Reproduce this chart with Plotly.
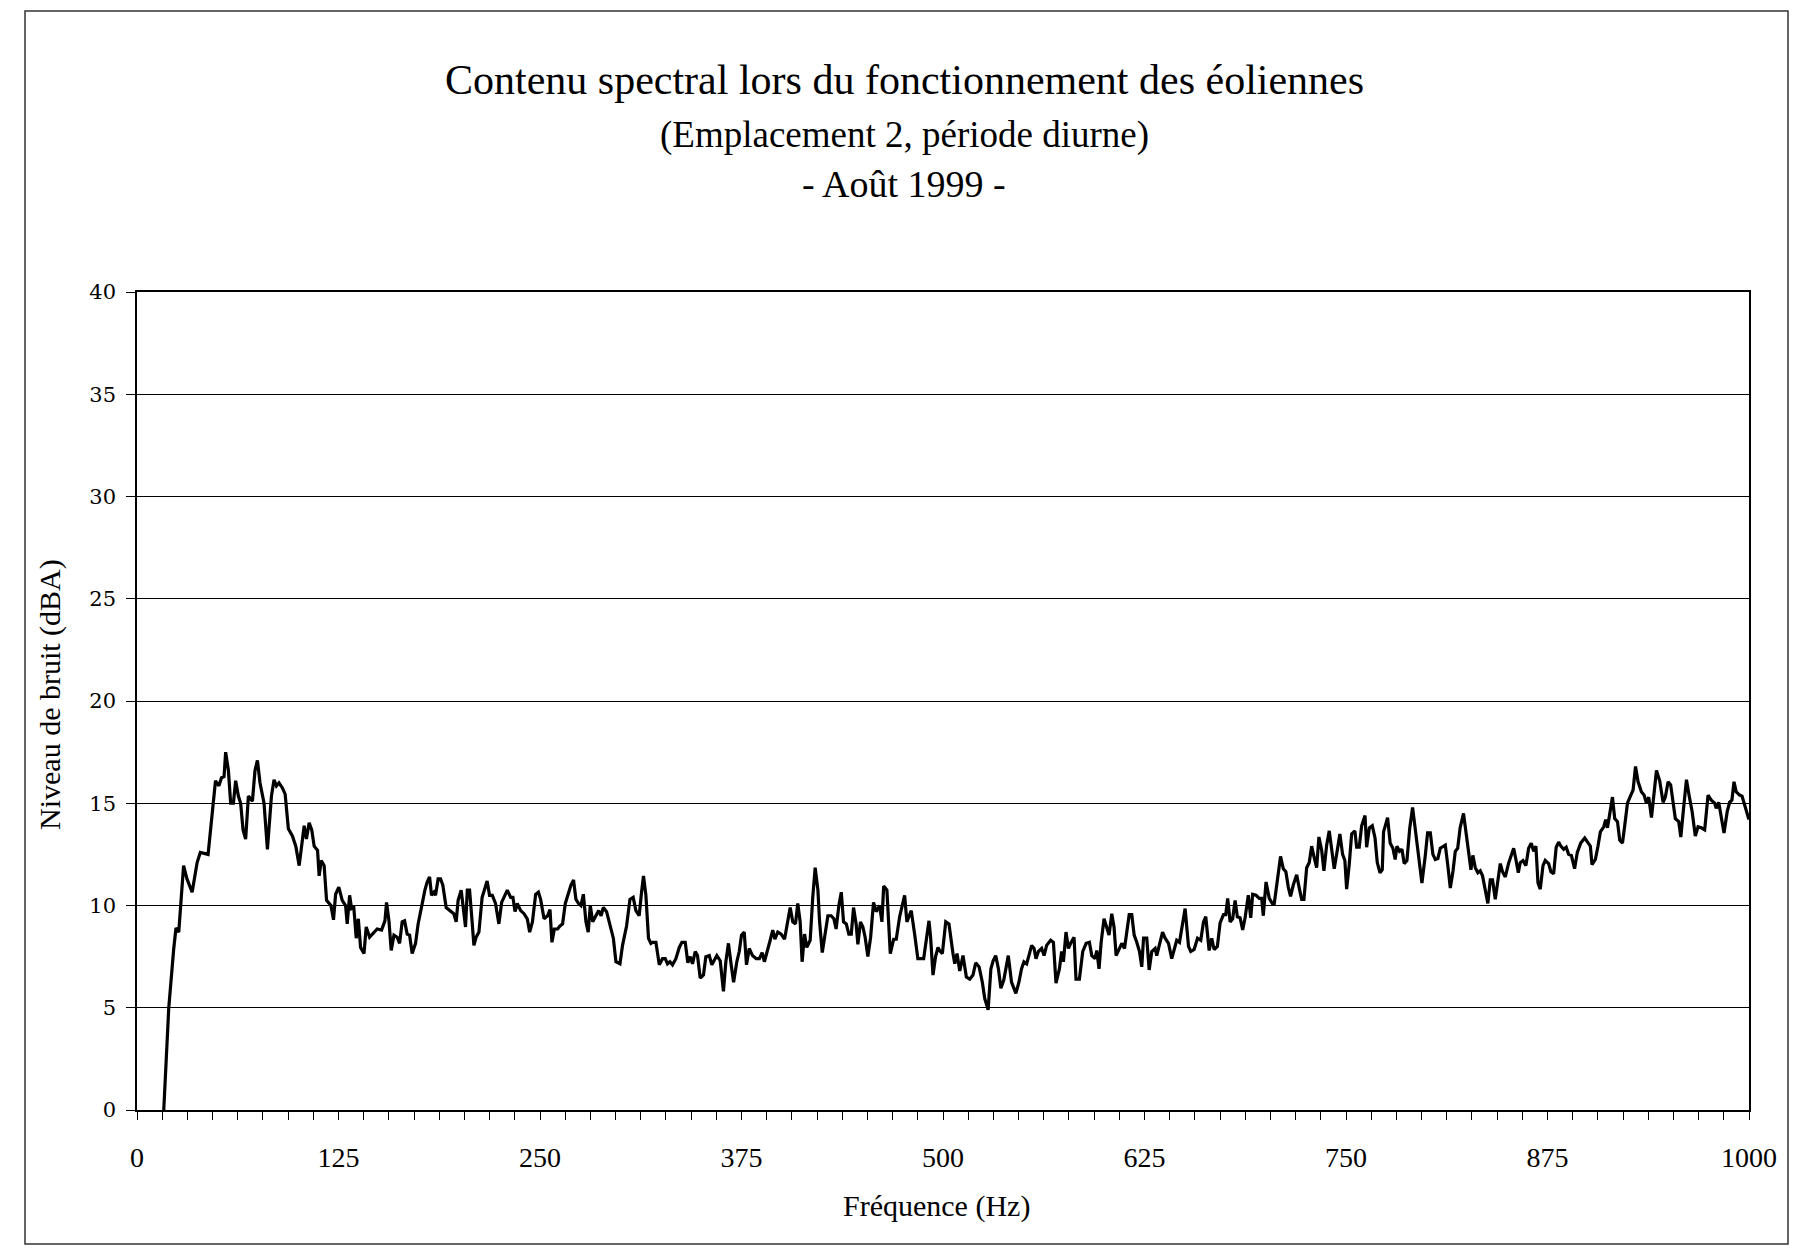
import plotly.graph_objects as go

# ---- data (frequency in Hz, level in dBA) ----
freq_a = [16.6, 19.7, 22.8, 24.2, 25.9, 28.9, 31.0, 34.2, 37.3, 39.3, 44.1, 45.6, 47.7, 48.7, 50.8,
          52.4, 54.0, 55.0, 56.7, 58.1, 59.8, 61.2, 62.9, 64.3, 65.8, 67.4, 69.1, 71.6, 73.2, 74.7,
          76.3, 78.8, 80.9, 83.4, 85.0, 86.5, 88.1, 90.2, 91.9, 93.9, 96.4, 98.5, 100.6, 103.7, 105.1,
          106.8, 108.4, 109.9, 112.0, 113.0, 114.3, 116.1, 117.6, 120.3]
level_a = [0, 5.0, 7.9, 8.9, 8.7, 11.95, 11.3, 10.65, 12.1, 12.6, 12.5, 13.6, 15.2, 16.1, 15.85,
           16.25, 16.3, 17.5, 16.6, 15.0, 15.0, 16.1, 15.35, 15.0, 13.7, 13.25, 15.35, 15.1, 16.6, 17.1,
           16.0, 15.0, 12.75, 15.35, 16.15, 15.85, 16.0, 15.75, 15.45, 13.75, 13.4, 12.9, 11.95, 13.9, 13.25,
           14.05, 13.7, 12.9, 12.7, 11.45, 12.2, 11.95, 10.25, 10.0]

freq_b = [121.9, 123.2, 125.2, 127.3, 129.4, 130.4, 131.9, 133.1, 134.5, 136.0, 137.3, 138.7, 140.8, 142.2,
          144.3, 145.9, 149.0, 151.7, 153.8, 154.8, 156.3, 157.7, 159.4, 161.4, 162.9, 164.5, 166.0, 167.6,
          169.1, 170.7, 172.8, 174.4, 176.5, 178.6, 180.0, 181.5, 182.7, 184.2, 185.2, 186.8, 188.3, 189.7,
          191.8, 194.5, 196.5, 198.0, 199.2, 201.1, 202.2, 203.8, 204.9, 206.3, 207.5, 209.0, 210.4, 212.1,
          214.1, 215.8, 217.2, 218.7, 220.4, 222.4, 224.5, 226.2, 228.2, 229.7, 231.8, 233.2, 234.5, 235.9,
          238.0, 240.1, 242.1, 243.6, 245.3, 247.3, 249.0, 250.4, 252.5]
level_b = [9.3, 10.55, 10.9, 10.25, 10.0, 9.1, 10.5, 9.85, 9.9, 8.4, 9.35, 7.95, 7.65, 8.95,
           8.45, 8.6, 8.85, 8.8, 9.25, 10.15, 9.25, 7.8, 8.55, 8.45, 8.15, 9.2, 9.25, 8.6,
           8.55, 7.65, 8.15, 9.1, 10.0, 10.75, 11.15, 11.4, 10.5, 10.65, 10.5, 11.3, 11.3, 11.0,
           9.9, 9.7, 9.6, 9.2, 10.25, 10.75, 9.85, 8.95, 10.75, 10.75, 9.6, 8.05, 8.45, 8.7,
           10.4, 10.9, 11.2, 10.5, 10.5, 10.1, 9.1, 10.15, 10.55, 10.75, 10.4, 10.4, 9.7, 10.1,
           9.75, 9.6, 9.35, 8.7, 9.2, 10.55, 10.65, 10.3, 9.35]

freq_c = [254.7, 256.2, 257.4, 258.9, 260.9, 262.4, 264.0, 265.7, 267.7, 269.2, 270.8, 272.3, 273.9, 275.4,
          276.9, 278.5, 279.9, 281.2, 282.7, 284.8, 286.4, 287.9, 289.3, 291.3, 293.0, 295.5, 297.1, 299.6,
          301.2, 303.7, 305.8, 307.8, 309.5, 311.5, 313.0, 314.2, 315.7, 317.3, 318.8, 319.8, 321.9, 324.0,
          326.0, 327.7, 329.1, 330.6, 332.2, 334.3, 336.4, 338.0, 340.1, 341.7, 343.2, 344.6, 346.3, 347.7,
          349.4, 351.4, 352.9, 355.0, 356.6, 358.5, 359.7, 361.8, 363.8, 365.3, 366.9, 368.6, 370.1, 372.1,
          373.6, 375.0, 376.7, 378.1, 379.8, 381.8]
level_c = [9.5, 9.8, 8.2, 8.85, 8.85, 9.0, 9.1, 10.1, 10.65, 11.0, 11.25, 10.3, 10.1, 10.0,
           10.55, 9.2, 8.7, 10.0, 9.2, 9.5, 9.75, 9.5, 9.9, 9.7, 9.2, 8.4, 7.25, 7.15,
           8.05, 9.0, 10.3, 10.4, 9.75, 9.5, 10.65, 11.45, 10.5, 8.4, 8.15, 8.2, 8.2, 7.1,
           7.4, 7.4, 7.15, 7.25, 7.1, 7.4, 7.95, 8.2, 8.2, 7.2, 7.5, 7.15, 7.75, 7.55,
           6.45, 6.6, 7.5, 7.55, 7.1, 7.4, 7.55, 7.3, 5.8, 7.25, 8.15, 7.1, 6.25, 7.25,
           7.75, 8.55, 8.7, 7.1, 7.9, 7.55]

freq_d = [384.1, 386.1, 387.8, 389.2, 391.3, 392.8, 394.4, 395.7, 397.5, 399.6, 401.7, 403.7, 405.2, 406.8,
          408.5, 409.9, 411.4, 412.6, 414.1, 415.5, 417.6, 419.2, 420.7, 422.4, 423.4, 425.1, 426.5, 428.6,
          430.6, 432.3, 433.7, 435.4, 436.9, 438.3, 440.0, 441.6, 443.1, 444.5, 446.1, 447.2, 448.8, 450.3,
          451.7, 453.4, 455.1, 456.9, 458.6, 460.7, 462.1, 463.2, 465.2, 467.3, 469.4, 471.0, 473.1, 474.7,
          476.2, 477.6, 480.3, 482.4, 484.4, 488.0, 489.6, 491.3, 492.3, 493.8, 495.4, 496.9, 497.9, 499.6,
          501.7, 503.7, 506.2, 507.3, 508.7, 510.4]
level_d = [7.4, 7.4, 7.7, 7.25, 7.95, 8.3, 8.8, 8.35, 8.7, 8.6, 8.35, 9.25, 9.9, 9.2,
           9.1, 10.1, 9.2, 7.25, 8.6, 7.95, 8.3, 10.4, 11.85, 10.75, 9.25, 7.7, 8.45, 9.5,
           9.5, 9.35, 8.85, 10.0, 10.65, 9.2, 9.1, 8.6, 8.6, 9.9, 9.1, 8.1, 9.2, 8.95,
           8.45, 7.5, 8.45, 10.15, 9.7, 10.0, 9.2, 10.95, 10.75, 7.65, 8.35, 8.35, 9.45, 10.0,
           10.5, 9.2, 9.75, 8.6, 7.4, 7.4, 8.45, 9.25, 8.45, 6.6, 7.5, 7.95, 7.8, 7.65,
           9.2, 9.1, 7.65, 7.15, 7.65, 6.8]

freq_e = [512.4, 514.5, 516.6, 518.6, 520.3, 522.4, 524.4, 525.9, 528.0, 529.7, 531.1, 532.7, 534.4, 535.9,
          537.7, 540.5, 542.5, 545.2, 547.1, 548.7, 550.2, 551.9, 553.3, 555.0, 556.5, 557.7, 559.2, 561.2,
          562.7, 564.3, 566.8, 568.5, 570.1, 572.2, 573.6, 574.7, 576.3, 577.8, 579.2, 581.3, 582.5, 584.6,
          586.7, 588.8, 590.8, 592.3, 594.3, 595.4, 596.8, 598.1, 599.9, 601.6, 603.0, 604.7, 606.1, 607.4,
          609.4, 610.9, 612.6, 614.0, 615.5, 617.1, 618.6, 620.2, 621.9, 623.3, 624.4, 626.4, 627.9, 629.5,
          631.6, 632.6, 634.7, 636.2, 637.8, 639.9, 641.9]
level_e = [7.55, 6.5, 6.4, 6.6, 7.2, 7.0, 6.25, 5.45, 4.9, 6.9, 7.3, 7.55, 6.9, 5.95,
           6.35, 7.55, 6.25, 5.7, 6.25, 6.9, 7.25, 7.15, 7.55, 8.05, 7.9, 7.4, 7.75, 7.9,
           7.55, 8.05, 8.3, 8.2, 6.2, 6.9, 7.75, 7.25, 8.7, 7.9, 8.15, 8.45, 6.4, 6.4,
           7.75, 8.15, 8.2, 7.55, 7.4, 7.8, 6.9, 8.2, 9.35, 8.85, 8.55, 9.6, 8.95, 7.55,
           7.9, 8.15, 7.9, 8.85, 9.55, 9.55, 8.55, 8.2, 7.75, 7.0, 8.4, 8.4, 6.85, 7.75,
           7.9, 7.55, 8.2, 8.7, 8.4, 8.15, 7.4]

freq_f = [645.0, 646.7, 648.1, 650.2, 652.3, 653.7, 655.8, 657.9, 659.9, 661.6, 663.0, 665.1, 666.7, 668.2,
          670.2, 671.9, 674.0, 675.4, 676.6, 678.1, 679.7, 681.2, 682.6, 684.3, 685.9, 687.4, 689.4, 690.9,
          692.1, 694.2, 696.2, 697.7, 698.7, 700.4, 702.4, 704.3, 705.5, 707.4, 709.4, 711.1, 712.7, 714.2,
          715.6, 717.3, 719.4, 721.0, 722.5, 723.9, 725.6, 727.2, 728.7, 730.1, 731.8, 733.2, 734.9, 736.3,
          738.0, 739.6, 741.1, 742.7, 744.6, 746.2, 747.9, 749.3, 750.4, 752.0, 753.5, 755.5, 756.6, 758.2,
          759.7, 761.8, 762.8, 764.5, 766.3, 768.0, 769.4, 771.1, 772.5]
level_f = [8.3, 8.2, 8.95, 9.85, 8.0, 7.75, 7.85, 8.4, 8.3, 9.2, 9.45, 7.8, 8.4, 7.85,
           8.0, 9.15, 9.55, 9.55, 10.35, 9.2, 9.35, 10.25, 9.45, 9.4, 8.8, 9.4, 10.5, 9.4,
           10.55, 10.5, 10.35, 10.35, 9.5, 11.15, 10.35, 10.1, 10.1, 11.15, 12.4, 11.8, 11.65, 10.9,
           10.45, 11.0, 11.5, 10.85, 10.3, 10.3, 11.85, 12.1, 12.9, 12.4, 11.85, 13.35, 12.7, 11.7,
           12.95, 13.65, 12.7, 11.8, 12.7, 13.5, 12.5, 12.2, 10.8, 12.0, 13.5, 13.65, 12.85, 12.85,
           13.9, 14.4, 12.85, 13.8, 13.9, 13.3, 12.1, 11.6, 11.75]

freq_g = [773.3, 775.8, 777.4, 779.1, 780.5, 781.6, 783.2, 784.7, 786.1, 787.8, 789.5, 791.3, 793.0, 795.0,
          797.1, 799.2, 800.6, 802.3, 803.9, 805.4, 807.0, 808.5, 810.2, 811.6, 813.1, 814.7, 816.4, 817.8,
          819.3, 820.8, 822.9, 824.4, 826.0, 827.5, 828.7, 830.2, 831.8, 833.3, 834.7, 836.4, 838.0, 839.5,
          840.9, 842.6, 844.0, 845.7, 847.1, 848.8, 850.8, 852.3, 854.0, 855.4, 856.9, 858.1, 859.8, 861.6,
          863.3, 864.9, 866.4, 867.8, 869.1, 870.5, 872.2, 873.6, 875.7, 877.1, 878.8, 880.4, 881.9, 883.3,
          885.0, 886.6, 888.1]
level_g = [13.6, 14.3, 13.05, 12.8, 12.25, 12.9, 12.65, 12.75, 12.05, 12.2, 13.75, 14.8, 13.75, 12.45,
           11.1, 12.45, 13.55, 13.55, 12.5, 12.25, 12.3, 12.8, 12.9, 12.95, 12.0, 10.85, 11.7, 12.65,
           12.8, 13.8, 14.5, 13.55, 12.65, 11.75, 12.45, 11.85, 11.6, 11.7, 11.45, 10.65, 10.1, 11.25,
           11.25, 10.3, 11.0, 12.05, 11.65, 11.4, 12.05, 12.4, 12.8, 12.25, 11.6, 12.1, 12.2, 11.95,
           12.8, 13.05, 12.65, 12.9, 11.1, 10.8, 11.95, 12.2, 12.05, 11.65, 11.55, 12.85, 13.1, 12.9,
           12.75, 12.85, 12.5]

freq_h = [889.8, 891.8, 893.5, 895.6, 898.1, 900.1, 901.6, 902.6, 904.7, 906.3, 907.8, 909.9, 911.1, 912.2,
          913.6, 915.3, 916.7, 918.4, 919.8, 921.5, 922.9, 924.6, 926.7, 928.1, 929.6, 931.2, 933.3, 934.9,
          936.4, 937.8, 939.5, 940.9, 942.6, 944.6, 946.7, 948.1, 949.8, 951.4, 952.9, 954.3, 956.4, 957.7,
          959.1, 961.2, 962.8, 964.7, 966.7, 968.4, 970.4, 972.5, 974.6, 976.6, 978.7, 979.7, 981.2, 982.8,
          984.5, 986.5, 988.0, 989.4, 990.7, 992.1, 994.2, 995.7, 997.3, 999.4, 1000.0]
level_h = [12.45, 11.8, 12.6, 13.05, 13.3, 13.05, 12.9, 12.0, 12.25, 12.9, 13.6, 13.85, 14.2, 13.8,
           14.55, 15.3, 14.25, 14.1, 13.2, 13.05, 13.9, 15.0, 15.4, 15.65, 16.8, 16.05, 15.55, 15.4,
           15.0, 15.3, 14.3, 15.3, 16.6, 16.1, 15.05, 15.3, 16.05, 15.9, 15.0, 14.25, 14.1, 13.35,
           14.5, 16.15, 15.4, 14.6, 13.4, 13.85, 13.8, 13.7, 15.4, 15.15, 15.0, 14.75, 15.05, 14.2,
           13.55, 14.6, 15.05, 15.15, 16.05, 15.55, 15.4, 15.35, 14.85, 14.35, 14.2]

x_ticks = [0, 125, 250, 375, 500, 625, 750, 875, 1000]
y_ticks = [0, 5, 10, 15, 20, 25, 30, 35, 40]

title_lines = ["Contenu spectral lors du fonctionnement des éoliennes",
               "(Emplacement 2, période diurne)",
               "- Août 1999 -"]
x_title = "Fréquence (Hz)"
y_title = "Niveau de bruit (dBA)"

freq = freq_a + freq_b + freq_c + freq_d + freq_e + freq_f + freq_g + freq_h
level = level_a + level_b + level_c + level_d + level_e + level_f + level_g + level_h

# ---- figure ----
W, H = 1801, 1255
L, R, T, B = 137, 52, 292, 145
pw, ph = W - L - R, H - T - B


def px(xp):
    return (xp - L) / pw


def py(yp):
    return (H - B - yp) / ph


SERIF = "Liberation Serif, Times New Roman, serif"

fig = go.Figure()
fig.add_trace(go.Scatter(x=freq, y=level, mode="lines",
                         line=dict(color="black", width=3.2), showlegend=False,
                         hoverinfo="x+y"))

fig.update_layout(
    width=W, height=H,
    margin=dict(l=L, r=R, t=T, b=B, autoexpand=False),
    paper_bgcolor="white", plot_bgcolor="white",
    xaxis=dict(range=[0, 1000], tickvals=x_ticks, ticktext=[str(v) for v in x_ticks],
               ticks="outside", ticklen=8, tickwidth=1, tickcolor="black",
               showline=True, linecolor="black", linewidth=1.5, mirror=True,
               showgrid=False, zeroline=False, automargin=False,
               minor=dict(dtick=15.625, tick0=0, ticks="outside", ticklen=8,
                          tickwidth=1, tickcolor="black", showgrid=False),
               tickfont=dict(family=SERIF, size=28, color="black"),
               ticklabelstandoff=14),
    yaxis=dict(range=[0, 40], tickvals=y_ticks,
               ticks="outside", ticklen=9, tickwidth=1, tickcolor="black",
               showline=True, linecolor="black", linewidth=1.5, mirror=True,
               showgrid=True, gridcolor="black", gridwidth=1.2, zeroline=False,
               automargin=False,
               tickfont=dict(family="DejaVu Serif, serif", size=21, color="black"),
               ticklabelstandoff=6),
    shapes=[dict(type="rect", xref="paper", yref="paper",
                 x0=px(25), x1=px(1788), y0=py(1244), y1=py(11),
                 line=dict(color="#333", width=1.5), fillcolor="rgba(0,0,0,0)")],
)

title_y = [80, 135, 184]
title_size = [42, 37, 38]
for txt, yy, sz in zip(title_lines, title_y, title_size):
    fig.add_annotation(text=txt, xref="paper", yref="paper", x=px(904), y=py(yy),
                       xanchor="center", yanchor="middle", showarrow=False,
                       font=dict(family=SERIF, size=sz, color="black"))

fig.add_annotation(text=x_title, xref="paper", yref="paper", x=px(936), y=py(1206),
                   xanchor="center", yanchor="middle", showarrow=False,
                   font=dict(family=SERIF, size=30, color="black"))
fig.add_annotation(text=y_title, xref="paper", yref="paper", x=px(50), y=py(695),
                   xanchor="center", yanchor="middle", showarrow=False, textangle=-90,
                   font=dict(family=SERIF, size=30, color="black"))

fig.write_html("out.html", config={"displayModeBar": False},
               post_script="document.body.style.margin='0';document.body.style.overflow='hidden';")
